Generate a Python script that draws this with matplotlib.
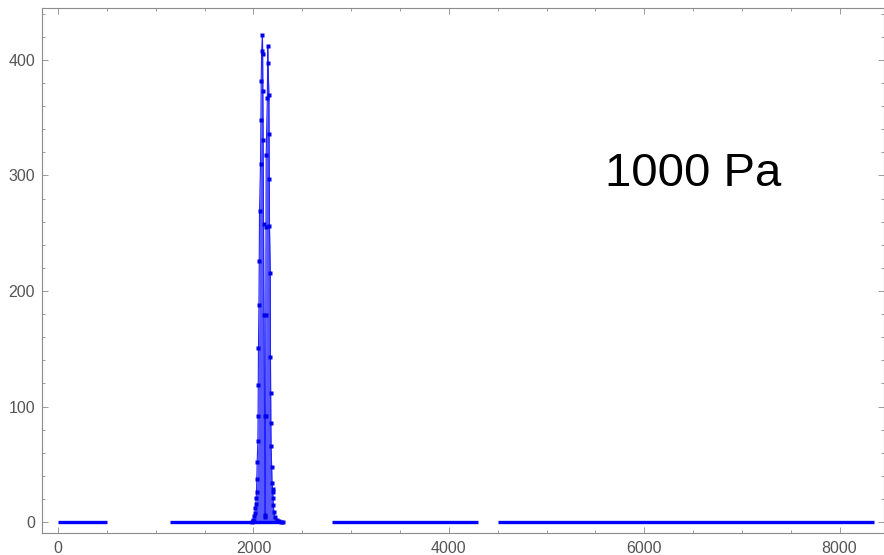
import numpy as np
import matplotlib.pyplot as plt

plt.rcParams['font.family'] = ['Liberation Sans', 'DejaVu Sans']

# zero-count stretches (start, end) along the x axis
flat_ranges = [(0, 500), (1150, 1985), (2800, 4300), (4500, 8350)]

# the double peak near 2100
peak_x = [1985, 1995, 2000, 2005, 2010, 2015, 2020, 2024, 2028, 2031,
          2034, 2038, 2045, 2047, 2049, 2051, 2056, 2059, 2062, 2072,
          2076, 2079, 2084, 2092, 2094, 2096, 2099, 2103, 2108, 2113,
          2117, 2122, 2124, 2126, 2128, 2130, 2142, 2146, 2149, 2158,
          2160, 2162, 2164, 2172, 2174, 2176, 2178, 2180, 2186, 2190,
          2195, 2198, 2200, 2203, 2208, 2220, 2240, 2260, 2280, 2300]
peak_y = [0, 1, 2, 1, 5, 8, 12, 16, 21, 26,
          37, 52, 70, 92, 119, 151, 188, 226, 269, 310,
          348, 382, 408, 422, 405, 373, 331, 258, 179, 92,
          4, 6, 92, 179, 255, 318, 367, 412, 397, 370,
          336, 297, 256, 216, 143, 112, 86, 66, 48, 34,
          29, 26, 21, 15, 9, 4, 2, 1, 0, 0]

label = '1000 Pa'

fig = plt.figure(figsize=(8.84, 5.55), dpi=100)
ax = fig.add_axes([42 / 884, 22 / 555, 841.5 / 884, 525 / 555])

blue = '#0000ff'
for a, b in flat_ranges:
    ax.plot([a, b], [0, 0], color=blue, lw=2.4, solid_capstyle='butt')

ax.fill_between(peak_x, peak_y, 0, color='#3a3aff', alpha=0.85, lw=0)
ax.plot(peak_x, peak_y, color='#2222ff', lw=0.8)
ax.plot(peak_x, peak_y, ls='none', marker='s', ms=2.2, color='#0000e8', mec='none')
ax.plot([peak_x[0], peak_x[-1]], [0, 0], color=blue, lw=2.4, solid_capstyle='butt')

ax.set_xlim(-165, 8450)
ax.set_ylim(-9.5, 445)
ax.set_xticks(np.arange(0, 8001, 2000))
ax.set_xticks(np.arange(0, 8450, 500), minor=True)
ax.set_yticks(np.arange(0, 401, 100))
ax.set_yticks(np.arange(0, 445, 20), minor=True)

for s in ax.spines.values():
    s.set_color('#8c8c8c')
    s.set_linewidth(0.8)
ax.tick_params(which='both', direction='in', top=True, right=True,
               color='#9a9a9a', width=0.7, labelcolor='#555555', labelsize=11.5)
ax.tick_params(which='major', length=4)
ax.tick_params(which='minor', length=2.2)
ax.tick_params(axis='x', pad=6)
ax.tick_params(axis='y', pad=5)

ax.text(0.774, 0.661, label, transform=ax.transAxes, ha='center', va='baseline',
        fontsize=34, color='black')

fig.savefig('out.png', dpi=100)
